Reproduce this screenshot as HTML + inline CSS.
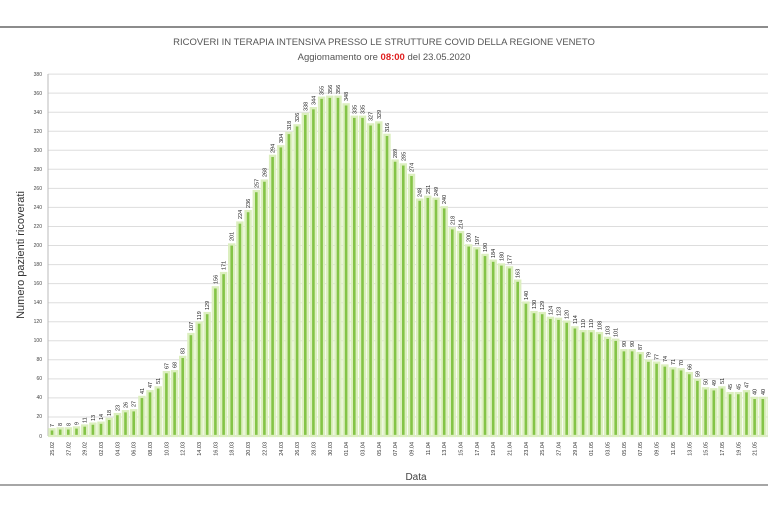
<!DOCTYPE html>
<html><head><meta charset="utf-8"><style>
html,body{margin:0;padding:0;background:#fff;width:768px;height:512px;overflow:hidden}
svg{display:block;font-family:"Liberation Sans",sans-serif}
</style></head><body>
<svg width="768" height="512" viewBox="0 0 768 512">
<line x1="0" y1="27" x2="768" y2="27" stroke="#666" stroke-width="1.5"/>
<line x1="0" y1="485" x2="768" y2="485" stroke="#888" stroke-width="1.5"/>
<text x="384" y="45" text-anchor="middle" font-size="9.5" fill="#555">RICOVERI IN TERAPIA INTENSIVA PRESSO LE STRUTTURE COVID DELLA REGIONE VENETO</text>
<text x="384" y="60" text-anchor="middle" font-size="9.5" fill="#555">Aggiomamento ore <tspan fill="#e02020" font-weight="bold">08:00</tspan> del 23.05.2020</text>
<g stroke="#ddd" stroke-width="1">
<line x1="48" x2="768" y1="74.1" y2="74.1"/><line x1="48" x2="768" y1="93.1" y2="93.1"/><line x1="48" x2="768" y1="112.2" y2="112.2"/><line x1="48" x2="768" y1="131.2" y2="131.2"/><line x1="48" x2="768" y1="150.3" y2="150.3"/><line x1="48" x2="768" y1="169.3" y2="169.3"/><line x1="48" x2="768" y1="188.4" y2="188.4"/><line x1="48" x2="768" y1="207.4" y2="207.4"/><line x1="48" x2="768" y1="226.5" y2="226.5"/><line x1="48" x2="768" y1="245.5" y2="245.5"/><line x1="48" x2="768" y1="264.6" y2="264.6"/><line x1="48" x2="768" y1="283.6" y2="283.6"/><line x1="48" x2="768" y1="302.7" y2="302.7"/><line x1="48" x2="768" y1="321.7" y2="321.7"/><line x1="48" x2="768" y1="340.8" y2="340.8"/><line x1="48" x2="768" y1="359.8" y2="359.8"/><line x1="48" x2="768" y1="378.9" y2="378.9"/><line x1="48" x2="768" y1="397.9" y2="397.9"/><line x1="48" x2="768" y1="417.0" y2="417.0"/>
</g>
<line x1="48" y1="74" x2="48" y2="436" stroke="#bbb"/>
<line x1="48" y1="436" x2="768" y2="436" stroke="#bbb"/>
<g font-size="5" fill="#444" text-anchor="end">
<text x="42" y="76">380</text><text x="42" y="95">360</text><text x="42" y="114">340</text><text x="42" y="133">320</text><text x="42" y="152">300</text><text x="42" y="171">280</text><text x="42" y="190">260</text><text x="42" y="209">240</text><text x="42" y="228">220</text><text x="42" y="247">200</text><text x="42" y="266">180</text><text x="42" y="285">160</text><text x="42" y="304">140</text><text x="42" y="323">120</text><text x="42" y="342">100</text><text x="42" y="361">80</text><text x="42" y="380">60</text><text x="42" y="399">40</text><text x="42" y="418">20</text><text x="42" y="438">0</text>
</g>
<text transform="translate(24,255) rotate(-90)" text-anchor="middle" font-size="11" fill="#333">Numero pazienti ricoverati</text>
<text x="416" y="480" text-anchor="middle" font-size="10" fill="#444">Data</text>
<g transform="translate(0,436) scale(1,-0.953)" fill="#84c447" stroke="#dcefbf" stroke-width="2.4">
<rect x="49.5" y="0" width="5" height="7"/><rect x="57.7" y="0" width="5" height="8"/><rect x="65.8" y="0" width="5" height="8"/><rect x="74" y="0" width="5" height="9"/><rect x="82.2" y="0" width="5" height="11"/><rect x="90.4" y="0" width="5" height="13"/><rect x="98.5" y="0" width="5" height="14"/><rect x="106.7" y="0" width="5" height="18"/><rect x="114.9" y="0" width="5" height="23"/><rect x="123" y="0" width="5" height="26"/><rect x="131.2" y="0" width="5" height="27"/><rect x="139.4" y="0" width="5" height="41"/><rect x="147.5" y="0" width="5" height="47"/><rect x="155.7" y="0" width="5" height="51"/><rect x="163.9" y="0" width="5" height="67"/><rect x="172.1" y="0" width="5" height="68"/><rect x="180.2" y="0" width="5" height="83"/><rect x="188.4" y="0" width="5" height="107"/><rect x="196.6" y="0" width="5" height="119"/><rect x="204.7" y="0" width="5" height="129"/><rect x="212.9" y="0" width="5" height="156"/><rect x="221.1" y="0" width="5" height="171"/><rect x="229.2" y="0" width="5" height="201"/><rect x="237.4" y="0" width="5" height="224"/><rect x="245.6" y="0" width="5" height="236"/><rect x="253.8" y="0" width="5" height="257"/><rect x="261.9" y="0" width="5" height="268"/><rect x="270.1" y="0" width="5" height="294"/><rect x="278.3" y="0" width="5" height="304"/><rect x="286.4" y="0" width="5" height="318"/><rect x="294.6" y="0" width="5" height="326"/><rect x="302.8" y="0" width="5" height="338"/><rect x="310.9" y="0" width="5" height="344"/><rect x="319.1" y="0" width="5" height="355"/><rect x="327.3" y="0" width="5" height="356"/><rect x="335.5" y="0" width="5" height="356"/><rect x="343.6" y="0" width="5" height="348"/><rect x="351.8" y="0" width="5" height="335"/><rect x="360" y="0" width="5" height="335"/><rect x="368.1" y="0" width="5" height="327"/><rect x="376.3" y="0" width="5" height="329"/><rect x="384.5" y="0" width="5" height="316"/><rect x="392.6" y="0" width="5" height="289"/><rect x="400.8" y="0" width="5" height="285"/><rect x="409" y="0" width="5" height="274"/><rect x="417.2" y="0" width="5" height="248"/><rect x="425.3" y="0" width="5" height="251"/><rect x="433.5" y="0" width="5" height="249"/><rect x="441.7" y="0" width="5" height="240"/><rect x="449.8" y="0" width="5" height="218"/><rect x="458" y="0" width="5" height="214"/><rect x="466.2" y="0" width="5" height="200"/><rect x="474.3" y="0" width="5" height="197"/><rect x="482.5" y="0" width="5" height="190"/><rect x="490.7" y="0" width="5" height="184"/><rect x="498.9" y="0" width="5" height="180"/><rect x="507" y="0" width="5" height="177"/><rect x="515.2" y="0" width="5" height="163"/><rect x="523.4" y="0" width="5" height="140"/><rect x="531.5" y="0" width="5" height="130"/><rect x="539.7" y="0" width="5" height="129"/><rect x="547.9" y="0" width="5" height="124"/><rect x="556" y="0" width="5" height="123"/><rect x="564.2" y="0" width="5" height="120"/><rect x="572.4" y="0" width="5" height="114"/><rect x="580.6" y="0" width="5" height="110"/><rect x="588.7" y="0" width="5" height="110"/><rect x="596.9" y="0" width="5" height="108"/><rect x="605.1" y="0" width="5" height="103"/><rect x="613.2" y="0" width="5" height="101"/><rect x="621.4" y="0" width="5" height="90"/><rect x="629.6" y="0" width="5" height="90"/><rect x="637.7" y="0" width="5" height="87"/><rect x="645.9" y="0" width="5" height="79"/><rect x="654.1" y="0" width="5" height="77"/><rect x="662.3" y="0" width="5" height="74"/><rect x="670.4" y="0" width="5" height="71"/><rect x="678.6" y="0" width="5" height="70"/><rect x="686.8" y="0" width="5" height="66"/><rect x="694.9" y="0" width="5" height="59"/><rect x="703.1" y="0" width="5" height="50"/><rect x="711.3" y="0" width="5" height="49"/><rect x="719.4" y="0" width="5" height="51"/><rect x="727.6" y="0" width="5" height="45"/><rect x="735.8" y="0" width="5" height="45"/><rect x="744" y="0" width="5" height="47"/><rect x="752.1" y="0" width="5" height="40"/><rect x="760.3" y="0" width="5" height="40"/><rect x="768.5" y="0" width="5" height="40"/>
</g>
<g transform="rotate(-90)" font-size="5.5" fill="#222">
<text x="-427" y="54">7</text><text x="-426" y="62.2">8</text><text x="-426" y="70.3">8</text><text x="-425" y="78.5">9</text><text x="-423" y="86.7">11</text><text x="-421" y="94.9">13</text><text x="-420" y="103">14</text><text x="-416" y="111.2">18</text><text x="-411" y="119.4">23</text><text x="-408" y="127.5">26</text><text x="-407" y="135.7">27</text><text x="-394" y="143.9">41</text><text x="-388" y="152">47</text><text x="-384" y="160.2">51</text><text x="-369" y="168.4">67</text><text x="-368" y="176.6">68</text><text x="-354" y="184.7">83</text><text x="-331" y="192.9">107</text><text x="-320" y="201.1">119</text><text x="-310" y="209.2">129</text><text x="-284" y="217.4">156</text><text x="-270" y="225.6">171</text><text x="-241" y="233.7">201</text><text x="-219" y="241.9">224</text><text x="-208" y="250.1">236</text><text x="-188" y="258.3">257</text><text x="-177" y="266.4">268</text><text x="-153" y="274.6">294</text><text x="-143" y="282.8">304</text><text x="-130" y="290.9">318</text><text x="-122" y="299.1">326</text><text x="-111" y="307.3">338</text><text x="-105" y="315.4">344</text><text x="-95" y="323.6">355</text><text x="-94" y="331.8">356</text><text x="-94" y="340">356</text><text x="-101" y="348.1">348</text><text x="-114" y="356.3">335</text><text x="-114" y="364.5">335</text><text x="-121" y="372.6">327</text><text x="-119" y="380.8">329</text><text x="-132" y="389">316</text><text x="-158" y="397.1">289</text><text x="-161" y="405.3">285</text><text x="-172" y="413.5">274</text><text x="-197" y="421.7">248</text><text x="-194" y="429.8">251</text><text x="-196" y="438">249</text><text x="-204" y="446.2">240</text><text x="-225" y="454.3">218</text><text x="-229" y="462.5">214</text><text x="-242" y="470.7">200</text><text x="-245" y="478.8">197</text><text x="-252" y="487">190</text><text x="-258" y="495.2">184</text><text x="-261" y="503.4">180</text><text x="-264" y="511.5">177</text><text x="-278" y="519.7">163</text><text x="-300" y="527.9">140</text><text x="-309" y="536">130</text><text x="-310" y="544.2">129</text><text x="-315" y="552.4">124</text><text x="-316" y="560.5">123</text><text x="-319" y="568.7">120</text><text x="-324" y="576.9">114</text><text x="-328" y="585.1">110</text><text x="-328" y="593.2">110</text><text x="-330" y="601.4">108</text><text x="-335" y="609.6">103</text><text x="-337" y="617.7">101</text><text x="-347" y="625.9">90</text><text x="-347" y="634.1">90</text><text x="-350" y="642.2">87</text><text x="-358" y="650.4">79</text><text x="-360" y="658.6">77</text><text x="-362" y="666.8">74</text><text x="-365" y="674.9">71</text><text x="-366" y="683.1">70</text><text x="-370" y="691.3">66</text><text x="-377" y="699.4">59</text><text x="-385" y="707.6">50</text><text x="-386" y="715.8">49</text><text x="-384" y="723.9">51</text><text x="-390" y="732.1">45</text><text x="-390" y="740.3">45</text><text x="-388" y="748.5">47</text><text x="-395" y="756.6">40</text><text x="-395" y="764.8">40</text><text x="-395" y="773">40</text>
</g>
<g transform="rotate(-90)" font-size="5.5" fill="#333" text-anchor="end">
<text x="-442" y="54">25.02</text><text x="-442" y="70.3">27.02</text><text x="-442" y="86.7">29.02</text><text x="-442" y="103">02.03</text><text x="-442" y="119.4">04.03</text><text x="-442" y="135.7">06.03</text><text x="-442" y="152">08.03</text><text x="-442" y="168.4">10.03</text><text x="-442" y="184.7">12.03</text><text x="-442" y="201.1">14.03</text><text x="-442" y="217.4">16.03</text><text x="-442" y="233.7">18.03</text><text x="-442" y="250.1">20.03</text><text x="-442" y="266.4">22.03</text><text x="-442" y="282.8">24.03</text><text x="-442" y="299.1">26.03</text><text x="-442" y="315.4">28.03</text><text x="-442" y="331.8">30.03</text><text x="-442" y="348.1">01.04</text><text x="-442" y="364.5">03.04</text><text x="-442" y="380.8">05.04</text><text x="-442" y="397.1">07.04</text><text x="-442" y="413.5">09.04</text><text x="-442" y="429.8">11.04</text><text x="-442" y="446.2">13.04</text><text x="-442" y="462.5">15.04</text><text x="-442" y="478.8">17.04</text><text x="-442" y="495.2">19.04</text><text x="-442" y="511.5">21.04</text><text x="-442" y="527.9">23.04</text><text x="-442" y="544.2">25.04</text><text x="-442" y="560.5">27.04</text><text x="-442" y="576.9">29.04</text><text x="-442" y="593.2">01.05</text><text x="-442" y="609.6">03.05</text><text x="-442" y="625.9">05.05</text><text x="-442" y="642.2">07.05</text><text x="-442" y="658.6">09.05</text><text x="-442" y="674.9">11.05</text><text x="-442" y="691.3">13.05</text><text x="-442" y="707.6">15.05</text><text x="-442" y="723.9">17.05</text><text x="-442" y="740.3">19.05</text><text x="-442" y="756.6">21.05</text><text x="-442" y="773">23.05</text>
</g>
</svg>
</body></html>
